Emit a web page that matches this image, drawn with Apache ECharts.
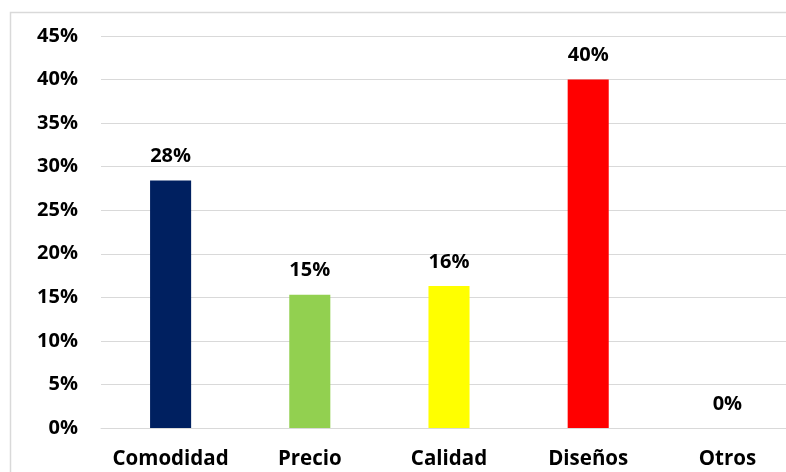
<!DOCTYPE html>
<html>
<head>
<meta charset="utf-8">
<script src="https://cdn.jsdelivr.net/npm/echarts@6/dist/echarts.min.js"></script>
<style>
  html, body { margin: 0; padding: 0; background: #ffffff; overflow: hidden; }
  #chart { width: 810px; height: 472px; }
</style>
</head>
<body>
<div id="chart"></div>
<script>
// Motivos de compra: proporción por categoría
const categories = ['Comodidad', 'Precio', 'Calidad', 'Diseños', 'Otros'];
const shares = [0.284, 0.153, 0.163, 0.40, 0];
const barColors = ['#002060', '#92D050', '#FFFF00', '#FF0000', '#7F7F7F'];
const yTicks = { min: 0, max: 0.45, interval: 0.05 };

const FONT = '"Open Sans", "Liberation Sans", sans-serif';
const pct = v => Math.round(v * 100) + '%';

const chart = echarts.init(document.getElementById('chart'), null, { renderer: 'canvas' });

chart.setOption({
  backgroundColor: '#ffffff',
  animation: false,
  graphic: [{
    type: 'rect',
    silent: true,
    z: -10,
    shape: { x: 10.5, y: 12.5, width: 820, height: 520 },
    style: { fill: 'none', stroke: '#d9d9d9', lineWidth: 1.5 }
  }],
  grid: { left: 101, width: 696, top: 36, bottom: 44, containLabel: false },
  xAxis: {
    type: 'category',
    data: categories,
    axisLine: { show: true, lineStyle: { color: '#d9d9d9', width: 1 } },
    axisTick: { show: false },
    axisLabel: {
      interval: 0,
      color: '#000000',
      fontFamily: FONT,
      fontWeight: 'bold',
      fontSize: 20.5,
      margin: 21
    }
  },
  yAxis: {
    type: 'value',
    min: yTicks.min,
    max: yTicks.max,
    interval: yTicks.interval,
    axisLine: { show: false },
    axisTick: { show: false },
    splitLine: { show: true, lineStyle: { color: '#d9d9d9', width: 1 } },
    axisLabel: {
      color: '#000000',
      fontFamily: FONT,
      fontWeight: 'bold',
      fontSize: 20,
      margin: 23,
      formatter: v => pct(v)
    }
  },
  series: [{
    type: 'bar',
    barWidth: '29.5%',
    data: shares.map((v, i) => ({ value: v, itemStyle: { color: barColors[i] } })),
    label: {
      show: true,
      position: 'top',
      distance: 14,
      color: '#000000',
      fontFamily: FONT,
      fontWeight: 'bold',
      fontSize: 20,
      formatter: p => pct(p.value)
    }
  }]
});
</script>
</body>
</html>
